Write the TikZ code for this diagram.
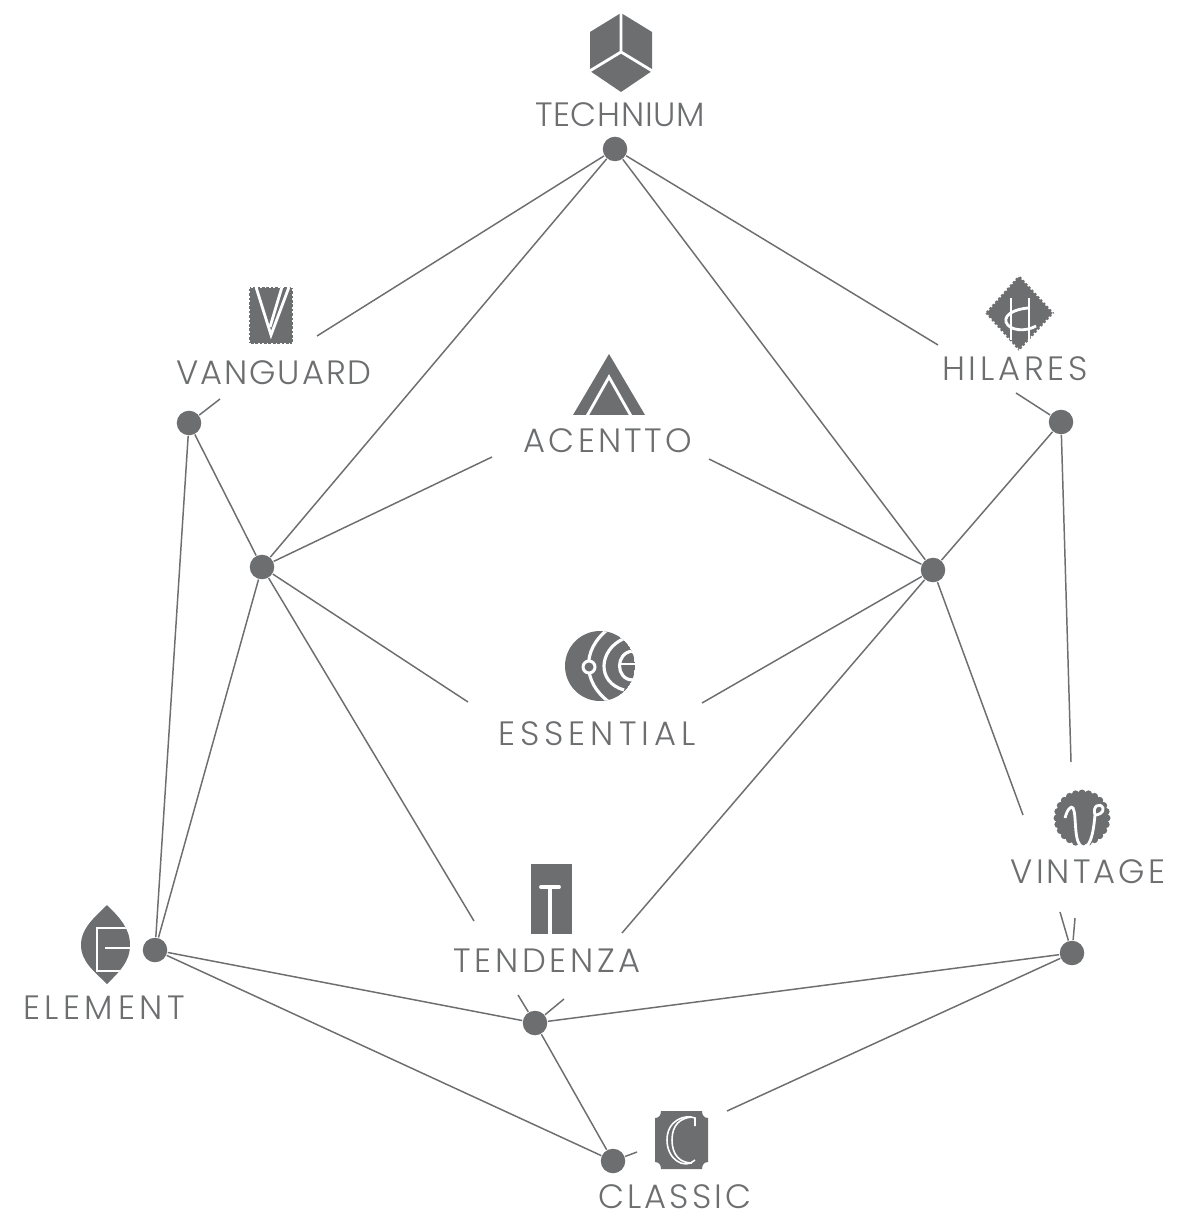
\documentclass[tikz,border=0pt]{standalone}
\usepackage{fontspec}
\setmainfont[UprightFont=* Light]{Poppins}
\definecolor{slate}{HTML}{6D6E70}
\tikzset{
	hub/.style={circle,fill=slate,minimum size=0.245cm,inner sep=0pt},
	tag/.style={text=slate,inner sep=0pt,font=\fontsize{9.6}{12}\selectfont\addfontfeature{LetterSpace=#1}},
	tag/.default=9,
	link/.style={draw=slate,line width=0.42pt},
	badge/.style={fill=slate,draw=none},
	iconcut/.style={draw=white,line width=0.8pt,fill=none},
	teeth/.style={draw=white,line width=0.6pt,dash pattern=on 0.5pt off 0.75pt}
}
\begin{document}
\begin{tikzpicture}[x=0.01cm,y=-0.01cm]
	\useasboundingbox (0,0) rectangle (1198,1213);
	\node[hub] (technium) at (615,149) {};
	\node[hub] (vanguard) at (189,423) {};
	\node[hub] (hilares) at (1061,422) {};
	\node[hub] (lefthub) at (262,567) {};
	\node[hub] (righthub) at (933,570) {};
	\node[hub] (element) at (155,950) {};
	\node[hub] (vintage) at (1072,953) {};
	\node[hub] (tendenza) at (535,1023) {};
	\node[hub] (classic) at (613,1161) {};
	\coordinate (vanA) at (317,336);
	\coordinate (vanB) at (220,399);
	\coordinate (hilA) at (938,345);
	\coordinate (hilB) at (1016,393);
	\coordinate (vinA) at (1071,762);
	\coordinate (vinB) at (1023,815);
	\coordinate (vinC) at (1060,912);
	\coordinate (vinD) at (1075,918);
	\coordinate (aceA) at (492,457);
	\coordinate (aceB) at (709,459);
	\coordinate (essA) at (468,702);
	\coordinate (essB) at (702,703);
	\coordinate (tenA) at (474,921);
	\coordinate (tenB) at (622,933);
	\coordinate (tenC) at (518,995);
	\coordinate (tenD) at (564,999);
	\coordinate (claA) at (637,1152);
	\coordinate (claB) at (727,1111);
	\draw[link] (technium) -- (vanA);
	\draw[link] (technium) -- (lefthub);
	\draw[link] (technium) -- (righthub);
	\draw[link] (technium) -- (hilA);
	\draw[link] (vanguard) -- (vanB);
	\draw[link] (vanguard) -- (lefthub);
	\draw[link] (vanguard) -- (element);
	\draw[link] (hilares) -- (hilB);
	\draw[link] (hilares) -- (righthub);
	\draw[link] (hilares) -- (vinA);
	\draw[link] (lefthub) -- (aceA);
	\draw[link] (lefthub) -- (essA);
	\draw[link] (lefthub) -- (tenA);
	\draw[link] (lefthub) -- (element);
	\draw[link] (righthub) -- (aceB);
	\draw[link] (righthub) -- (essB);
	\draw[link] (righthub) -- (tenB);
	\draw[link] (righthub) -- (vinB);
	\draw[link] (element) -- (tendenza);
	\draw[link] (element) -- (classic);
	\draw[link] (vintage) -- (vinC);
	\draw[link] (vintage) -- (vinD);
	\draw[link] (vintage) -- (tendenza);
	\draw[link] (vintage) -- (claB);
	\draw[link] (tendenza) -- (tenC);
	\draw[link] (tendenza) -- (tenD);
	\draw[link] (tendenza) -- (classic);
	\draw[link] (classic) -- (claA);
	\node[tag=2] (technium label) at (620,115) {TECHNIUM};
	\node[tag=5.7] (vanguard label) at (274,373) {VANGUARD};
	\node[tag=11] (hilares label) at (1015,369) {HILARES};
	\node[tag] (acentto label) at (608,441) {ACENTTO};
	\node[tag=15] (essential label) at (597,734) {ESSENTIAL};
	\node[tag] (vintage label) at (1088,872) {VINTAGE};
	\node[tag=11] (tendenza label) at (547,961) {TENDENZA};
	\node[tag=13.6] (element label) at (104,1008) {ELEMENT};
	\node[tag] (classic label) at (675,1197) {CLASSIC};
	% cube
	\fill[badge] (621,13) -- (652,32) -- (652,71) -- (621,92) -- (590,71) -- (590,32) -- cycle;
	\draw[iconcut] (621,11) -- (621,52) -- (654,72);
	\draw[iconcut] (621,52) -- (588,72);
	% stamp
	\fill[badge] (249,287) rectangle (293,344);
	\draw[teeth] (249,287) rectangle (293,344);
	\draw[iconcut] (256,287) -- (271,335) -- (289,287);
	\draw[iconcut] (282,287) -- (270,327);
	% diamond
	\fill[badge] (1019,275) -- (1054,313) -- (1019,351) -- (985,313) -- cycle;
	\draw[teeth] (1019,275) -- (1054,313) -- (1019,351) -- (985,313) -- cycle;
	\draw[iconcut] (1011,298) -- (1011,340);
	\draw[iconcut] (1029,298) -- (1029,340);
	\draw[iconcut] (1036,326) .. controls (1026,332) and (1009,331) .. (1006,322) .. controls (1004,314) and (1016,309) .. (1028,308);
	% triangle
	\fill[badge] (609,354) -- (645,415) -- (573,415) -- cycle;
	\draw[iconcut] (587,416) -- (609,377) -- (631,416);
	% globe
	\begin{scope}
		\clip (600,666) circle (35);
		\fill[badge] (600,666) circle (35);
		\draw[iconcut,line width=0.9pt] (607,630) .. controls (582,650) and (582,682) .. (609,702);
		\draw[iconcut,line width=0.9pt] (623,639) .. controls (599,650) and (596,682) .. (624,690);
		\draw[iconcut,line width=0.9pt] (633,651) .. controls (615,652) and (615,680) .. (633,680);
		\draw[iconcut] (620,664) -- (637,664);
	\end{scope}
	\fill[white] (589,667) circle (7.5);
	\fill[badge] (589,667) circle (4.5);
	% scalloped seal
	\fill[badge] (1082,818) circle (26.5);
	\foreach \a in {0,15,...,345}
		\fill[badge] (1082,818) ++(\a:25) circle (3.5);
	\draw[iconcut] (1065,818) .. controls (1067,810) and (1071,805) .. (1073,808) .. controls (1077,815) and (1073,845) .. (1083,847) .. controls (1092,848) and (1094,825) .. (1095,815) .. controls (1092,806) and (1100,802) .. (1103,808) .. controls (1104,813) and (1098,815) .. (1095,815);
	% tower
	\fill[badge] (531,864) rectangle (572,934);
	\draw[white,line width=1.1pt,line cap=round] (541,887) -- (559,887);
	\draw[white,line width=1pt] (550,887) -- (550,934);
	% leaf
	\begin{scope}
		\clip (107,905) .. controls (95,917) and (81,928) .. (81,945) .. controls (81,962) and (95,972) .. (107,984) .. controls (119,972) and (130,962) .. (130,945) .. controls (130,928) and (119,917) .. (107,905) -- cycle;
		\fill[badge] (70,900) rectangle (140,990);
		\draw[iconcut] (127,928) -- (97,928) -- (97,971) -- (127,971);
		\draw[iconcut] (105,948) -- (132,948);
	\end{scope}
	% plaque
	\fill[badge] (661,1111) -- (702,1111) .. controls (702,1115) and (704,1118) .. (708,1118) -- (708,1162) .. controls (704,1162) and (702,1165) .. (702,1169) -- (661,1169) .. controls (661,1165) and (659,1162) .. (655,1162) -- (655,1118) .. controls (659,1118) and (661,1115) .. (661,1111) -- cycle;
	\draw[iconcut,line width=0.45pt] (695,1126) -- (695,1118) .. controls (685,1114) and (667,1120) .. (667,1140) .. controls (667,1160) and (685,1170) .. (695,1160);
	\draw[iconcut,line width=0.45pt] (692,1117) .. controls (680,1118) and (672,1125) .. (672,1140) .. controls (672,1155) and (680,1163) .. (692,1163);
\end{tikzpicture}
\end{document}
